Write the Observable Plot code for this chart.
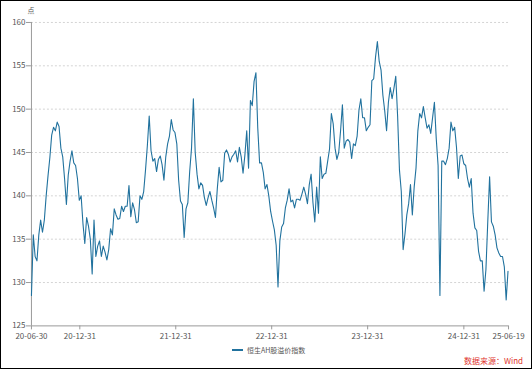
<!DOCTYPE html>
<html><head><meta charset="utf-8">
<script src="https://cdn.jsdelivr.net/npm/d3@7"></script>
<script src="https://cdn.jsdelivr.net/npm/@observablehq/plot@0.6"></script>
<style>
html,body{margin:0;padding:0;background:#fff;}
#frame{position:relative;width:532px;height:369px;box-sizing:border-box;border:1px solid #000;overflow:hidden;font-family:"Noto Sans CJK SC","Noto Sans",sans-serif;background:#fff;}
#chart{position:absolute;left:-1px;top:-1px;}
#legend{position:absolute;top:343px;left:231px;font-size:7px;color:#555;display:flex;align-items:center;height:12px;}
#legend .sw{width:11px;height:2px;background:#21729e;margin-right:4px;}
#source{position:absolute;right:8px;top:354px;font-size:8px;color:#e0352e;}
</style></head>
<body>
<div id="frame"><div id="chart"></div>
<div id="legend"><span class="sw"></span><span id="legendText"></span></div>
<div id="source"></div></div>
<script>
const seriesName = "恒生AH股溢价指数";
const sourceText = "数据来源：Wind";
const yUnit = "点";
const startDate = "2020-06-30";
const endDate = "2025-06-19";
// weekly readings of the index, starting 2020-06-30
const values = [
128.5,135.5,133,132.5,135.5,137.2,135.8,137.2,140,142.3,
144.4,147,147.9,147.5,148.5,148,145.5,144.5,142,139,
142.4,144,145.2,143.8,143.5,142,139.5,140,136.8,134.5,
137.5,136.5,135,131,137.2,133,134.2,134.8,133,134.2,
133.5,132.6,133.8,136.2,135.5,138.5,137.8,137.3,137.4,138.8,
138.2,138.8,138.8,141.2,137.6,139.2,138.4,136.9,137,140,
139.6,140.5,143,145.8,149.2,145.2,144,144.3,142.8,144.2,
144.6,143.6,141.8,144.5,146,146.9,148.8,147.6,147.3,146,
141.8,139.4,139,135.2,138.5,139.2,142.8,145.5,151.2,145,
142.5,140.8,141.5,141.2,139.8,138.9,139.8,140.5,139.5,138.6,
137.5,140.8,143.3,141.6,141.8,144.9,145.3,144.8,143.9,144.5,
144.8,145.2,143.9,145.6,144.5,142.6,144.7,147.5,143.2,151,
150.4,153.2,154.2,147.8,143.8,143.8,142.7,140.8,141.3,140,
138.2,137.1,136.1,134.3,129.5,134.8,136.4,136.8,138.6,139.5,
140.8,139.3,139.5,138.6,139.6,139.6,139.5,140.2,141,140.2,
139.1,141.3,142.5,139.2,137,141,138,144.5,142,142.5,
142.6,144,145.4,149.5,148.3,145.5,144.2,145,147.5,150.5,
145.5,146.3,146.5,146.2,144.3,146,145.8,146.9,149.9,151.2,
149,149,147.5,147.9,148.2,153.3,153.5,156,157.8,155.5,
154.5,151.6,149.8,147.5,150.8,152.5,151.2,152.4,153.8,149.2,
143,140.5,133.8,135.6,137.8,139.1,141.3,137.8,141,143.2,
147.5,149.5,149,150.3,149,147.8,148.2,147.2,149,150.8,
146.6,143.5,128.5,144,144,143.6,144.3,145.5,148.5,147.5,
147.9,145.6,142,144.6,144.7,143.7,143.5,142,141,142,
138,136.3,136,133.6,132.5,132.5,129,131.5,137,142.2,
137,136.5,135.5,134,133.4,133,133,131.8,128,131.3
];
const xTickDates = ["2020-06-30","2020-12-31","2021-12-31","2022-12-31","2023-12-31","2024-12-31","2025-06-19"];
const xTickLabels = ["20-06-30","20-12-31","21-12-31","22-12-31","23-12-31","24-12-31","25-06-19"];
const yTicks = [125,130,135,140,145,150,155,160];

const parse = d3.utcParse("%Y-%m-%d");
const start = parse(startDate);
const data = values.map((v, i) => ({date: d3.utcDay.offset(start, 7 * i), value: v}));
const tickDates = xTickDates.map(parse);
const labelMap = new Map(tickDates.map((d, i) => [+d, xTickLabels[i]]));

const lineColor = "#21729e";
const chart = Plot.plot({
  width: 532, height: 369,
  marginLeft: 31, marginRight: 23, marginTop: 22, marginBottom: 43,
  style: {fontFamily: '"Noto Sans CJK SC","Noto Sans",sans-serif', fontSize: "8px", background: "transparent"},
  x: {type: "utc", domain: [start, parse(endDate)]},
  y: {domain: [125, 160]},
  marks: [
    Plot.gridY(yTicks.filter(v => v > 125), {stroke: "#d4d4d4", strokeOpacity: 1, strokeDasharray: "2,2"}),
    Plot.ruleX([start], {stroke: "#999"}),
    Plot.ruleY([125], {stroke: "#999"}),
    Plot.axisY(yTicks, {tickSize: 5, tickPadding: 1, stroke: "#999", fill: "#555", fontSize: 8, label: null}),
    Plot.axisX(tickDates, {tickSize: 4, tickPadding: 3, stroke: "#999", fill: "#555", fontSize: 8, label: null, tickFormat: d => labelMap.get(+d)}),
    Plot.lineY(data, {x: "date", y: "value", stroke: lineColor, strokeWidth: 1.1}),
    Plot.text([yUnit], {frameAnchor: "top-left", dx: -4, dy: -14, fill: "#555", fontSize: 7, lineAnchor: "top"})
  ]
});
document.getElementById("chart").appendChild(chart);
document.getElementById("legendText").textContent = seriesName;
document.getElementById("source").textContent = sourceText;
</script>
</body></html>
